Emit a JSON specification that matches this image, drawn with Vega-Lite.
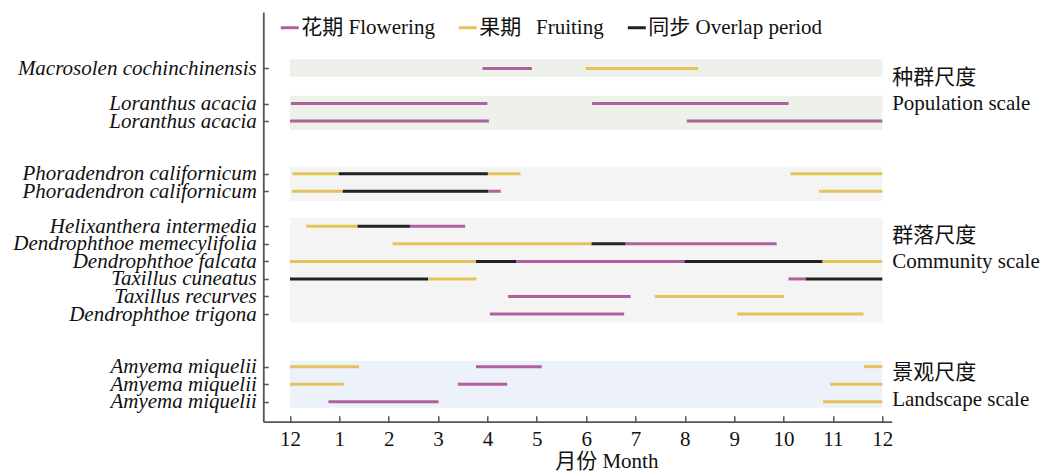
{
  "$schema": "https://vega.github.io/schema/vega-lite/v6.json",
  "width": 628.4,
  "height": 409.7,
  "autosize": {"type": "none"},
  "padding": {"left": 263.3, "top": 12, "right": 152.3, "bottom": 51.3},
  "background": "white",
  "config": {
    "view": {"stroke": null},
    "font": "Liberation Serif, Noto Sans CJK SC",
    "axis": {"labelOverlap": false, "labelFlush": false, "labelLimit": 400, "grid": false},
    "axisY": {"labelOverlap": false},
    "axisQuantitative": {"labelOverlap": false}
  },
  "encoding": {
    "y": {"type": "quantitative",
      "scale": {"domain": [-3.22, 20.14], "nice": false, "zero": false, "reverse": true},
      "axis": {"values": [0,2,3,6,7,9,10,11,12,13,14,17,18,19],
        "labelExpr": "['Macrosolen cochinchinensis','','Loranthus acacia','Loranthus acacia','','','Phoradendron californicum','Phoradendron californicum','','Helixanthera intermedia','Dendrophthoe memecylifolia','Dendrophthoe falcata','Taxillus cuneatus','Taxillus recurves','Dendrophthoe trigona','','','Amyema miquelii','Amyema miquelii','Amyema miquelii'][datum.value]",
        "labelFont": "Liberation Serif", "labelFontStyle": "italic", "labelFontSize": 21, "labelColor": "#111",
        "labelFlush": false, "labelOverlap": false, "labelLimit": 400,
        "tickSize": -5, "tickColor": "#555", "tickWidth": 1.5, "labelPadding": 12,
        "domainColor": "#555", "domainWidth": 1.8, "grid": false, "title": null}},
    "x": {"type": "quantitative",
      "scale": {"domain": [-0.54, 12.19], "nice": false, "zero": false},
      "axis": {"values": [0,1,2,3,4,5,6,7,8,9,10,11,12],
        "labelExpr": "datum.value == 0 ? '12' : datum.value",
        "labelFont": "Liberation Serif", "labelFontSize": 21, "labelColor": "#111",
        "labelFlush": false, "labelOverlap": false,
        "tickSize": -6, "tickColor": "#555", "tickWidth": 1.5, "labelPadding": 12.7,
        "domainColor": "#555", "domainWidth": 1.8, "grid": false,
        "title": "月份 Month", "titleFont": "Liberation Serif, Noto Sans CJK SC", "titleFontSize": 21,
        "titleFontWeight": "normal", "titleColor": "#111", "titleX": 343, "titleY": 29, "titleAnchor": "middle"}}
  },
  "layer": [
    {
      "data": {"values": [
        {"scale": "population", "y1": -0.52, "y2": 0.47},
        {"scale": "population", "y1": 1.55, "y2": 3.51},
        {"scale": "community", "y1": 5.6, "y2": 7.55},
        {"scale": "community", "y1": 8.51, "y2": 14.47},
        {"scale": "landscape", "y1": 16.66, "y2": 19.34}
      ]},
      "mark": {"type": "rect"},
      "encoding": {
        "x": {"datum": 0},
        "x2": {"datum": 12},
        "y": {"field": "y1"},
        "y2": {"field": "y2"},
        "fill": {"field": "scale", "type": "nominal",
          "scale": {"domain": ["population", "community", "landscape"], "range": ["#eef0ea", "#f4f4f4", "#edf1f9"]},
          "legend": null}
      }
    },
    {
      "data": {"values": [
        {"row": 0, "start": 3.9, "end": 4.9, "phase": "花期 Flowering"},
        {"row": 0, "start": 5.99, "end": 8.27, "phase": "果期\u00a0\u2009 Fruiting"},
        {"row": 2, "start": 0.02, "end": 4.0, "phase": "花期 Flowering"},
        {"row": 2, "start": 6.12, "end": 10.1, "phase": "花期 Flowering"},
        {"row": 3, "start": 0, "end": 4.03, "phase": "花期 Flowering"},
        {"row": 3, "start": 8.04, "end": 12, "phase": "花期 Flowering"},
        {"row": 6, "start": 0.05, "end": 0.99, "phase": "果期\u00a0\u2009 Fruiting"},
        {"row": 6, "start": 0.99, "end": 4.01, "phase": "同步 Overlap period"},
        {"row": 6, "start": 4.01, "end": 4.67, "phase": "果期\u00a0\u2009 Fruiting"},
        {"row": 6, "start": 10.14, "end": 12, "phase": "果期\u00a0\u2009 Fruiting"},
        {"row": 7, "start": 0.04, "end": 1.07, "phase": "果期\u00a0\u2009 Fruiting"},
        {"row": 7, "start": 1.07, "end": 4.02, "phase": "同步 Overlap period"},
        {"row": 7, "start": 4.02, "end": 4.27, "phase": "花期 Flowering"},
        {"row": 7, "start": 10.72, "end": 12, "phase": "果期\u00a0\u2009 Fruiting"},
        {"row": 9, "start": 0.33, "end": 1.37, "phase": "果期\u00a0\u2009 Fruiting"},
        {"row": 9, "start": 1.37, "end": 2.43, "phase": "同步 Overlap period"},
        {"row": 9, "start": 2.43, "end": 3.55, "phase": "花期 Flowering"},
        {"row": 10, "start": 2.08, "end": 6.11, "phase": "果期\u00a0\u2009 Fruiting"},
        {"row": 10, "start": 6.11, "end": 6.8, "phase": "同步 Overlap period"},
        {"row": 10, "start": 6.8, "end": 9.86, "phase": "花期 Flowering"},
        {"row": 11, "start": 0, "end": 3.77, "phase": "果期\u00a0\u2009 Fruiting"},
        {"row": 11, "start": 3.77, "end": 4.59, "phase": "同步 Overlap period"},
        {"row": 11, "start": 4.59, "end": 7.99, "phase": "花期 Flowering"},
        {"row": 11, "start": 7.99, "end": 10.79, "phase": "同步 Overlap period"},
        {"row": 11, "start": 10.79, "end": 12, "phase": "果期\u00a0\u2009 Fruiting"},
        {"row": 12, "start": 0, "end": 2.8, "phase": "同步 Overlap period"},
        {"row": 12, "start": 2.8, "end": 3.78, "phase": "果期\u00a0\u2009 Fruiting"},
        {"row": 12, "start": 10.1, "end": 10.45, "phase": "花期 Flowering"},
        {"row": 12, "start": 10.45, "end": 12, "phase": "同步 Overlap period"},
        {"row": 13, "start": 4.42, "end": 6.9, "phase": "花期 Flowering"},
        {"row": 13, "start": 7.39, "end": 10.01, "phase": "果期\u00a0\u2009 Fruiting"},
        {"row": 14, "start": 4.05, "end": 6.77, "phase": "花期 Flowering"},
        {"row": 14, "start": 9.06, "end": 11.62, "phase": "果期\u00a0\u2009 Fruiting"},
        {"row": 17, "start": 0, "end": 1.4, "phase": "果期\u00a0\u2009 Fruiting"},
        {"row": 17, "start": 3.77, "end": 5.1, "phase": "花期 Flowering"},
        {"row": 17, "start": 11.63, "end": 12, "phase": "果期\u00a0\u2009 Fruiting"},
        {"row": 18, "start": 0, "end": 1.09, "phase": "果期\u00a0\u2009 Fruiting"},
        {"row": 18, "start": 3.4, "end": 4.4, "phase": "花期 Flowering"},
        {"row": 18, "start": 10.94, "end": 12, "phase": "果期\u00a0\u2009 Fruiting"},
        {"row": 19, "start": 0.78, "end": 3.01, "phase": "花期 Flowering"},
        {"row": 19, "start": 10.8, "end": 12, "phase": "果期\u00a0\u2009 Fruiting"}
      ]},
      "mark": {"type": "rule", "strokeWidth": 3},
      "encoding": {
        "x": {"field": "start"},
        "x2": {"field": "end"},
        "y": {"field": "row"},
        "color": {"field": "phase", "type": "nominal",
          "scale": {"domain": ["花期 Flowering", "果期\u00a0\u2009 Fruiting", "同步 Overlap period"], "range": ["#b0609f", "#e4c45a", "#222222"]},
          "legend": {"orient": "none", "legendX": 16, "legendY": 5, "direction": "horizontal", "title": null,
            "symbolType": "stroke", "symbolSize": 324, "symbolStrokeWidth": 3,
            "labelFont": "Liberation Serif, Noto Sans CJK SC", "labelFontSize": 21, "labelColor": "#111",
            "labelOffset": 1, "columnPadding": 17, "labelLimit": 300}}
      }
    },
    {
      "data": {"values": [
        {"row": 0.52, "label": "种群尺度"},
        {"row": 2.02, "label": "Population scale"},
        {"row": 9.55, "label": "群落尺度"},
        {"row": 11.05, "label": "Community scale"},
        {"row": 17.38, "label": "景观尺度"},
        {"row": 18.9, "label": "Landscape scale"}
      ]},
      "mark": {"type": "text", "align": "left", "baseline": "middle", "fontSize": 21, "font": "Liberation Serif, Noto Sans CJK SC", "color": "#111"},
      "encoding": {
        "x": {"datum": 12.2},
        "y": {"field": "row"},
        "text": {"field": "label"}
      }
    }
  ]
}
